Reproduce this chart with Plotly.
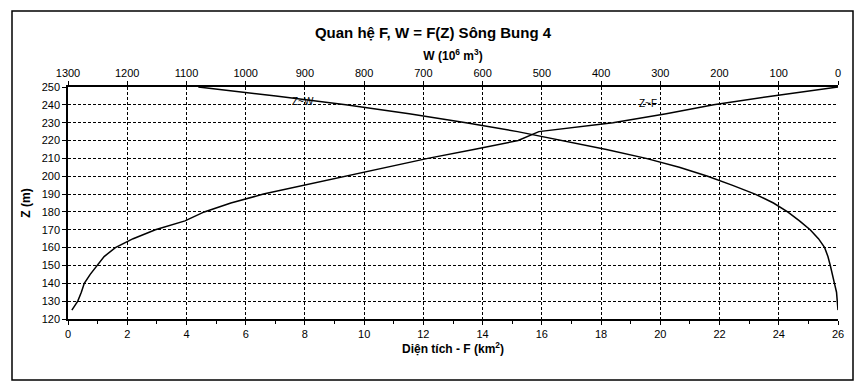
import plotly.graph_objects as go

# ---- data ----
z_f = [125, 130, 135, 140, 145, 150, 155, 160, 165, 170, 175, 180, 185, 190,
       195, 200, 205, 210, 215, 220, 225, 230, 235, 240, 245, 250]
f_vals = [0.13, 0.33, 0.45, 0.55, 0.75, 0.97, 1.22, 1.6, 2.2, 2.95, 3.95, 4.6,
          5.5, 6.6, 8.0, 9.3, 10.7, 12.15, 13.7, 15.2, 15.9, 18.4, 20.2, 21.8,
          23.8, 26.0]

z_w = [125, 130, 135, 140, 145, 150, 155, 160, 165, 170, 175, 180, 185, 190,
       195, 200, 205, 210, 215, 220, 225, 230, 235, 240, 245, 250]
w_vals = [0, 1, 2.5, 6, 9, 13, 17, 22.5, 33, 47, 65, 85, 109, 140, 179, 220,
          268, 324, 391, 465, 541, 628, 724, 831, 949, 1080]

f_ticks = list(range(0, 27, 2))
w_ticks = list(range(0, 1301, 100))
z_ticks = list(range(120, 251, 10))

FONT = "Liberation Sans, Arial, sans-serif"

fig = go.Figure()
fig.add_trace(go.Scatter(x=f_vals, y=z_f, mode="lines", name="Z~F",
                         line=dict(color="black", width=1.5), xaxis="x", yaxis="y",
                         showlegend=False))
fig.add_trace(go.Scatter(x=w_vals, y=z_w, mode="lines", name="Z~W",
                         line=dict(color="black", width=1.5), xaxis="x2", yaxis="y",
                         showlegend=False))

grid = dict(showgrid=True, gridcolor="black", gridwidth=1, griddash="3px,2px")

# page has an 8px body margin, so the figure is drawn 8px in from the top-left
W, H = 859, 381
fig.update_layout(
    width=W, height=H,
    margin=dict(l=60, r=29, t=79, b=70),
    paper_bgcolor="white", plot_bgcolor="white",
    font=dict(family=FONT, color="black", size=11),
    title=dict(text="<b>Quan hệ F, W = F(Z) Sông Bung 4</b>", x=(433 - 8) / W, xref="container",
               xanchor="center", y=1 - 25 / H, yref="container", yanchor="middle",
               font=dict(size=15, family=FONT, color="black")),
    xaxis=dict(range=[0, 26], tickvals=f_ticks, ticks="outside", ticklen=4,
               tickcolor="black", showline=True, linecolor="black", linewidth=1.5,
               zeroline=False, tickfont=dict(size=11),
               minor=dict(dtick=1, ticks="outside", ticklen=3, tickcolor="black", showgrid=False),
               title=dict(text="<b>Diện tích - F (km<sup>2</sup>)</b>", standoff=2,
                          font=dict(size=12)),
               **grid),
    xaxis2=dict(range=[1300, 0], tickvals=w_ticks, overlaying="x", side="top",
                ticks="outside", ticklen=4, tickcolor="black", showline=True,
                linecolor="black", linewidth=1.5, showgrid=False, zeroline=False,
                tickfont=dict(size=11),
                title=dict(text="<b>W (10<sup>6</sup> m<sup>3</sup>)</b>", standoff=4,
                           font=dict(size=12))),
    yaxis=dict(range=[120, 250], tickvals=z_ticks, ticks="outside", ticklen=4,
               tickcolor="black", showline=True, linecolor="black", linewidth=1.5,
               zeroline=False, tickfont=dict(size=11),
               title=dict(text="<b>Z (m)</b>", standoff=8, font=dict(size=12)),
               **grid),
)

fig.add_annotation(x=7.94, y=241.6, xref="x", yref="y", text="Z~W", showarrow=False,
                   font=dict(size=10, family=FONT, color="black"))
fig.add_annotation(x=19.6, y=240.5, xref="x", yref="y", text="Z~F", showarrow=False,
                   font=dict(size=10, family=FONT, color="black"))

# outer frame (page pixels: x 12..853, y 11..380; plot area x 68..838, y 87..319)
fig.add_shape(type="rect", xref="paper", yref="paper",
              x0=(12 - 68) / 770, x1=(853 - 68) / 770,
              y0=(319 - 380) / 232, y1=(319 - 11) / 232,
              line=dict(color="black", width=1.5), fillcolor="rgba(0,0,0,0)", layer="below")

fig.write_html("out.html")
